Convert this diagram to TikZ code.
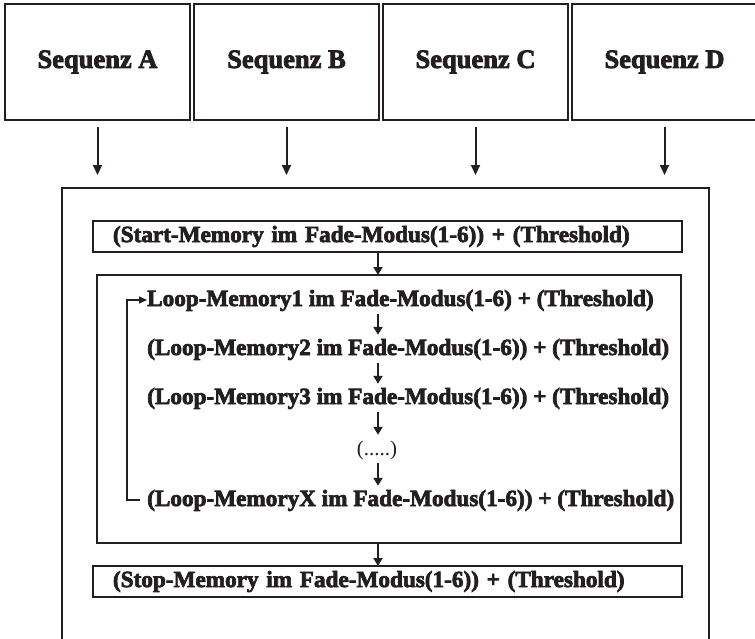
\documentclass[tikz,border=0pt]{standalone}
\usepackage{fontspec}
\setmainfont{Liberation Serif}
\newfontfamily\heavyfont{Liberation Serif Bold}[FakeBold=3]
\usetikzlibrary{positioning,arrows.meta}

\definecolor{ink}{HTML}{231F20}

\tikzset{
  seqbox/.style={draw=ink, line width=2pt, outer sep=0pt,
    minimum width=185pt, minimum height=116pt, inner sep=0pt,
    font=\heavyfont\fontsize{26.5}{30}\selectfont},
  bar/.style={draw=ink, line width=2pt, outer sep=0pt, anchor=west,
    text width=549pt, inner xsep=20pt, inner ysep=0pt, minimum height=31pt,
    align=left, font=\heavyfont\fontsize{23.2}{28}\selectfont},
  memline/.style={anchor=base west, inner sep=0pt, text height=17pt, text depth=5pt,
    font=\heavyfont\fontsize{23.2}{28}\selectfont},
  arr/.style={-{Triangle[length=10pt,width=9pt]}, draw=ink, line width=2pt},
  arrs/.style={-{Triangle[length=8pt,width=9pt]}, draw=ink, line width=2pt},
  backline/.style={-{Triangle[length=8pt,width=7pt]}, draw=ink, line width=1.5pt}
}

\begin{document}
\begin{tikzpicture}[x=1pt,y=-1pt,text=ink]
  \clip (0,0) rectangle (755,638);

  % Sequence boxes on top
  \node[seqbox] (seqA) at (97.5,62) {Sequenz A};
  \node[seqbox, right=4pt of seqA] (seqB) {Sequenz B};
  \node[seqbox, right=4pt of seqB] (seqC) {Sequenz C};
  \node[seqbox, right=4pt of seqC] (seqD) {Sequenz D};

  % Outer panel (open at the bottom)
  \coordinate (paneltop) at (62,188);
  \draw[draw=ink, line width=2pt] (62,660) |- (709,188) -- (709,660);

  \foreach \s in {A,B,C,D}
    \draw[arr, shorten <=7pt, shorten >=13pt] (seq\s.south) -- (seq\s.south |- paneltop);

  % Start / loop / stop
  \coordinate (col) at (378,0);
  \coordinate (back) at (127,0);

  \node[bar] (start) at (93,236.5) {(Start-Memory im Fade-Modus(1-6)) + (Threshold)};
  \node[draw=ink, line width=2pt, outer sep=0pt, minimum width=584pt,
        minimum height=268pt] (loopbox) at (389,409) {};
  \node[bar] (stop) at (93,581.5) {(Stop-Memory im Fade-Modus(1-6)) + (Threshold)};

  \node[memline] (m1) at (147,306) {Loop-Memory1 im Fade-Modus(1-6) + (Threshold)};
  \node[memline] (m2) at (147,355) {(Loop-Memory2 im Fade-Modus(1-6)) + (Threshold)};
  \node[memline] (m3) at (147,404) {(Loop-Memory3 im Fade-Modus(1-6)) + (Threshold)};
  \node[anchor=base, inner sep=0pt, text height=17pt, text depth=5pt,
        font=\fontsize{21}{25}\selectfont] (dots) at (377,455) {(.....)};
  \node[memline] (mX) at (147,506) {(Loop-MemoryX im Fade-Modus(1-6)) + (Threshold)};

  % Arrows down the chain
  \draw[arrs] (start.south -| col) -- (loopbox.north -| col);
  \foreach \a/\b in {m1/m2,m2/m3,m3/dots,dots/mX}
    \draw[arrs, shorten <=3pt, shorten >=3pt] (\a.south -| col) -- (\b.north -| col);
  \draw[arrs] (loopbox.south -| col) -- (stop.north -| col);

  % Jump back to the first loop memory
  \draw[backline] ([xshift=-7pt]mX.west) -- (mX.west -| back) |- (m1.west);
\end{tikzpicture}
\end{document}
